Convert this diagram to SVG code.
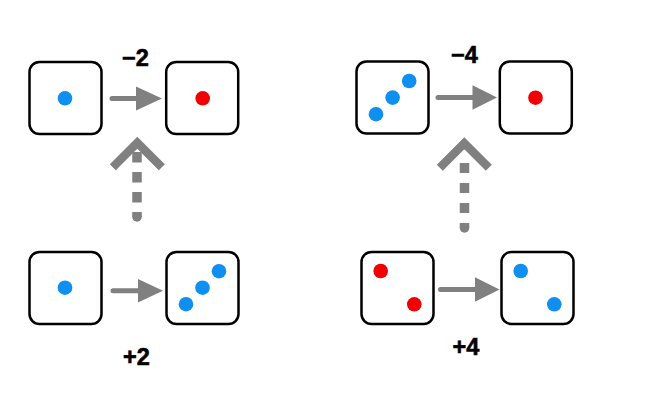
<svg xmlns="http://www.w3.org/2000/svg" width="650" height="397" viewBox="0 0 650 397">
<style>
.die{fill:#fff;stroke:#000;stroke-width:2.5}
.b{fill:#0f8ff0}
.r{fill:#f00000}
.ln{stroke:#808080;stroke-width:5;stroke-linecap:round;fill:none}
.hd{fill:#808080}
.chev{stroke:#808080;stroke-width:8.5;fill:none;stroke-linejoin:miter;stroke-linecap:butt}
.dash{stroke:#808080;stroke-width:9.5;fill:none;stroke-linecap:butt}
.lbl{font-family:"Liberation Sans",Arial,sans-serif;font-weight:bold;font-size:23.5px;fill:#000;stroke:#000;stroke-width:0.6;text-anchor:middle}
</style>
<rect width="650" height="397" fill="#fff"/>
<g id="connectors">
<path class="ln" d="M112 98.5H137"/><polygon class="hd" points="136,86.5 162,98.5 136,110.5"/>
<path class="ln" d="M438 97.5H473"/><polygon class="hd" points="472.5,85.2 497,97.5 472.5,109.8"/>
<path class="ln" d="M113 290.7H139"/><polygon class="hd" points="138,279 163,290.7 138,302.4"/>
<path class="ln" d="M440.5 289.5H476"/><polygon class="hd" points="475,277.3 499.5,289.5 475,301.7"/>
<path class="dash" d="M137 152V217" stroke-dasharray="10.5 9.5"/><circle cx="137" cy="217" r="4.75" class="hd"/>
<path class="chev" d="M112.8 167.2L137.3 142.7L161.8 167.2"/>
<path class="dash" d="M464.5 163V228" stroke-dasharray="10 10"/><circle cx="464.5" cy="228" r="4.75" class="hd"/>
<path class="chev" d="M439.8 167.8L464.3 143.3L488.8 167.8"/>
</g>
<g id="die1"><rect class="die" x="29.5" y="62" width="72" height="72" rx="10"/><circle class="b" cx="65" cy="98.3" r="7.3"/></g>
<g id="die2"><rect class="die" x="166.2" y="62" width="72" height="72" rx="10"/><circle class="r" cx="202.7" cy="98.3" r="7.3"/></g>
<g id="die3"><rect class="die" x="29.5" y="252" width="72" height="72" rx="10"/><circle class="b" cx="65" cy="287.7" r="7.3"/></g>
<g id="die4"><rect class="die" x="166.5" y="252" width="72" height="72" rx="10"/><circle class="b" cx="219" cy="271.2" r="7.3"/><circle class="b" cx="202.5" cy="287.7" r="7.3"/><circle class="b" cx="186" cy="304.2" r="7.3"/></g>
<g id="die5"><rect class="die" x="356.5" y="61.5" width="72" height="72" rx="10"/><circle class="b" cx="409.2" cy="81" r="7.3"/><circle class="b" cx="392.6" cy="97.6" r="7.3"/><circle class="b" cx="376" cy="114.2" r="7.3"/></g>
<g id="die6"><rect class="die" x="499.8" y="61.5" width="72" height="72" rx="10"/><circle class="r" cx="535.5" cy="97.7" r="7.3"/></g>
<g id="die7"><rect class="die" x="361.5" y="252" width="72" height="72" rx="10"/><circle class="r" cx="380.7" cy="271" r="7.3"/><circle class="r" cx="414.3" cy="304.3" r="7.3"/></g>
<g id="die8"><rect class="die" x="501.5" y="252" width="72" height="72" rx="10"/><circle class="b" cx="520.7" cy="271" r="7.3"/><circle class="b" cx="554.3" cy="304.3" r="7.3"/></g>
<g id="labels">
<text class="lbl" x="135.5" y="65.5">−2</text>
<text class="lbl" x="464.5" y="63">−4</text>
<text class="lbl" x="136.5" y="364.8">+2</text>
<text class="lbl" x="466" y="355">+4</text>
</g>
</svg>
